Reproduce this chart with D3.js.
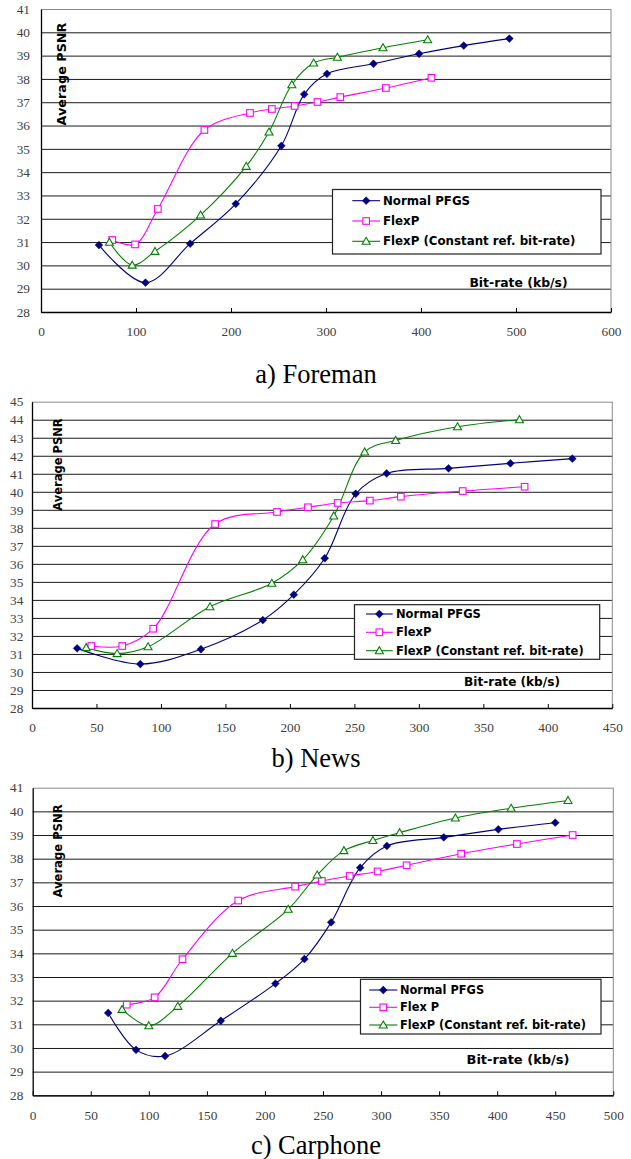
<!DOCTYPE html>
<html><head><meta charset="utf-8">
<script src="https://cdn.jsdelivr.net/npm/d3@7"></script>
<style>html,body{margin:0;padding:0;background:#fff}svg{display:block}</style>
</head><body>
<svg id="c" width="631" height="1159"></svg>
<script>
// ---- data ----
const seriesNames = ["Normal PFGS", "FlexP", "FlexP (Constant ref. bit-rate)"];
const seriesNamesC = ["Normal PFGS", "Flex P", "FlexP (Constant ref. bit-rate)"];
const captions = ["a) Foreman", "b) News", "c) Carphone"];
const yTitle = "Average PSNR";
const xTitle = "Bit-rate (kb/s)";

const xTicksA = [0,100,200,300,400,500,600];
const yTicksA = [28,29,30,31,32,33,34,35,36,37,38,39,40,41];
const xTicksB = [0,50,100,150,200,250,300,350,400,450];
const yTicksB = [28,29,30,31,32,33,34,35,36,37,38,39,40,41,42,43,44,45];
const xTicksC = [0,50,100,150,200,250,300,350,400,450,500];
const yTicksC = [28,29,30,31,32,33,34,35,36,37,38,39,40,41];

const foremanNormal = [[61,30.87],[110,29.26],[157,30.93],[205,32.64],[253,35.13],[277,37.34],[301,38.22],[350,38.65],[398,39.08],[445,39.43],[493,39.73]];
const foremanFlexP = [[75,31.09],[99,30.9],[123,32.42],[172,35.81],[220,36.54],[243,36.71],[267,36.84],[291,37.01],[315,37.22],[363,37.61],[411,38.05]];
const foremanConst = [[72,30.99],[96,30.01],[120,30.6],[168,32.16],[216,34.25],[240,35.72],[264,37.75],[287,38.68],[312,38.93],[360,39.34],[407,39.68]];

const newsNormal = [[35,31.31],[84,30.44],[131,31.26],[179,32.88],[203,34.29],[227,36.31],[251,39.89],[275,41.02],[323,41.3],[371,41.58],[419,41.84]];
const newsFlexP = [[46,31.44],[70,31.44],[94,32.4],[142,38.21],[190,38.88],[214,39.14],[237,39.38],[262,39.51],[286,39.73],[334,40.04],[382,40.28]];
const newsConst = [[42,31.35],[66,31.02],[90,31.4],[138,33.62],[186,34.92],[210,36.23],[234,38.66],[258,42.21],[282,42.85],[330,43.61],[378,44.0]];

const carphoneNormal = [[65,31.48],[89,29.92],[114,29.66],[162,31.15],[209,32.72],[234,33.76],[257,35.31],[282,37.62],[305,38.54],[354,38.9],[401,39.24],[450,39.52]];
const carphoneFlexP = [[81,31.83],[105,32.14],[129,33.75],[177,36.23],[226,36.82],[249,37.06],[273,37.27],[297,37.46],[322,37.72],[369,38.21],[417,38.62],[465,39.0]];
const carphoneConst = [[77,31.63],[100,30.94],[125,31.76],[172,34.0],[220,35.86],[245,37.31],[268,38.34],[293,38.77],[316,39.1],[364,39.72],[412,40.13],[461,40.46]];

// ---- styles ----
const colors = ["#000080", "#ff00ff", "#008000"];
const markers = ["diamond", "square", "triangle"];

const panels = [
  {L:41, R:611, T:9, B:312, xDom:[0,600], yDom:[28,41], xTicks:xTicksA, yTicks:yTicksA,
   series:[foremanNormal, foremanFlexP, foremanConst], names:seriesNames, caption:captions[0], capY:382.5,
   yLabGap:11, yTitleX:61.7, yTitleY:74, yTitleSize:12.8,
   leg:{x:332.5, y:189.5, w:268.5, h:64.5, rows:[200.7,221,241.3], lx1:352.3, lx2:380, tx:383, fs:11.8},
   xt:{x:518.5, y:282, fs:12.4}},
  {L:32, R:612.3, T:401.7, B:708, xDom:[0,450], yDom:[28,45], xTicks:xTicksB, yTicks:yTicksB,
   series:[newsNormal, newsFlexP, newsConst], names:seriesNames, caption:captions[1], capY:766.5,
   yLabGap:8.7, yTitleX:58.3, yTitleY:464.5, yTitleSize:11.5,
   leg:{x:354.5, y:604.7, w:245.2, h:54.6, rows:[614,632.3,650.7], lx1:366, lx2:392.7, tx:396, fs:11.5},
   xt:{x:512, y:681.7, fs:12.1}},
  {L:32.7, R:613.3, T:787.7, B:1095.3, xDom:[0,500], yDom:[28,41], xTicks:xTicksC, yTicks:yTicksC,
   series:[carphoneNormal, carphoneFlexP, carphoneConst], names:seriesNamesC, caption:captions[2], capY:1154,
   yLabGap:9.4, yTitleX:58.3, yTitleY:851, yTitleSize:11.6,
   leg:{x:360.5, y:979.3, w:240.5, h:54.7, rows:[990,1007.3,1025], lx1:369.3, lx2:397.3, tx:400, fs:11.4},
   xt:{x:518, y:1059, fs:13}}
];

const svg = d3.select("#c");
const SANS = "'DejaVu Sans', Verdana, sans-serif";
const SERIF = "'Liberation Serif', 'Times New Roman', serif";

function drawMarker(g, type, x, y, color) {
  if (type === "diamond") {
    const r = 3.9;
    g.append("path").attr("d", `M${x},${y-r}L${x+r},${y}L${x},${y+r}L${x-r},${y}Z`)
      .attr("fill", color).attr("stroke", color).attr("stroke-width", 0.5);
  } else if (type === "square") {
    g.append("rect").attr("x", x-3.3).attr("y", y-3.3).attr("width", 6.6).attr("height", 6.6)
      .attr("fill", "#fff").attr("stroke", color).attr("stroke-width", 1.1);
  } else {
    g.append("path").attr("d", `M${x},${y-4}L${x+4},${y+3}L${x-4},${y+3}Z`)
      .attr("fill", "#fff").attr("stroke", color).attr("stroke-width", 1.1);
  }
}

panels.forEach(p => {
  const x = d3.scaleLinear().domain(p.xDom).range([p.L, p.R]);
  const y = d3.scaleLinear().domain(p.yDom).range([p.B, p.T]);
  const W = p.R - p.L;
  const g = svg.append("g");

  // gridlines
  const grid = g.append("g").attr("transform", `translate(${p.L},0)`)
    .call(d3.axisLeft(y).tickValues(p.yTicks).tickSize(-W).tickFormat(""));
  grid.select(".domain").remove();
  grid.selectAll("line").attr("stroke", d => d === p.yDom[1] ? "#8a8a8a" : "#1a1a1a").attr("stroke-width", 1);

  // right border
  g.append("line").attr("x1", p.R).attr("x2", p.R).attr("y1", p.T).attr("y2", p.B)
    .attr("stroke", "#8a8a8a").attr("stroke-width", 1);

  // y axis labels
  const ya = g.append("g").attr("transform", `translate(${p.L},0)`)
    .call(d3.axisLeft(y).tickValues(p.yTicks).tickSize(0).tickPadding(p.yLabGap).tickFormat(d3.format("d")));
  ya.select(".domain").attr("stroke", "#000").attr("stroke-width", 1.3);
  ya.selectAll("text").attr("font-family", SERIF).attr("font-size", 13.3).attr("fill", "#404040");

  // x axis
  const xa = g.append("g").attr("transform", `translate(0,${p.B})`)
    .call(d3.axisBottom(x).tickValues(p.xTicks).tickSizeInner(-4).tickSizeOuter(0).tickPadding(15).tickFormat(d3.format("d")));
  xa.select(".domain").attr("stroke", "#000").attr("stroke-width", 1.3);
  xa.selectAll("line").attr("stroke", "#000");
  xa.selectAll("text").attr("font-family", SERIF).attr("font-size", 13.3).attr("fill", "#404040");

  // y title
  g.append("text").attr("transform", `translate(${p.yTitleX},${p.yTitleY}) rotate(-90)`)
    .attr("text-anchor", "middle").attr("dominant-baseline", "central")
    .attr("font-family", SANS).attr("font-weight", "bold").attr("font-size", p.yTitleSize).text(yTitle);

  // x title
  g.append("text").attr("x", p.xt.x).attr("y", p.xt.y).attr("text-anchor", "middle").attr("dominant-baseline", "central")
    .attr("font-family", SANS).attr("font-weight", "bold").attr("font-size", p.xt.fs).text(xTitle);

  // series
  const line = d3.line().x(d => x(d[0])).y(d => y(d[1])).curve(d3.curveCatmullRom.alpha(0.5));
  p.series.forEach((s, i) => {
    g.append("path").attr("d", line(s)).attr("fill", "none").attr("stroke", colors[i]).attr("stroke-width", 1.1);
  });
  p.series.forEach((s, i) => {
    s.forEach(d => drawMarker(g, markers[i], x(d[0]), y(d[1]), colors[i]));
  });

  // legend
  const L = p.leg;
  g.append("rect").attr("x", L.x).attr("y", L.y).attr("width", L.w).attr("height", L.h)
    .attr("fill", "#fff").attr("stroke", "#222").attr("stroke-width", 1.2);
  p.names.forEach((n, i) => {
    const ry = L.rows[i];
    g.append("line").attr("x1", L.lx1).attr("x2", L.lx2).attr("y1", ry).attr("y2", ry)
      .attr("stroke", colors[i]).attr("stroke-width", 1.1);
    drawMarker(g, markers[i], (L.lx1 + L.lx2) / 2, ry, colors[i]);
    g.append("text").attr("x", L.tx).attr("y", ry).attr("dominant-baseline", "central")
      .attr("font-family", SANS).attr("font-weight", "bold").attr("font-size", L.fs).text(n);
  });

  // caption
  svg.append("text").attr("x", 316).attr("y", p.capY).attr("text-anchor", "middle")
    .attr("font-family", SERIF).attr("font-size", 26.5).attr("fill", "#000").text(p.caption);
});
</script>
</body></html>
